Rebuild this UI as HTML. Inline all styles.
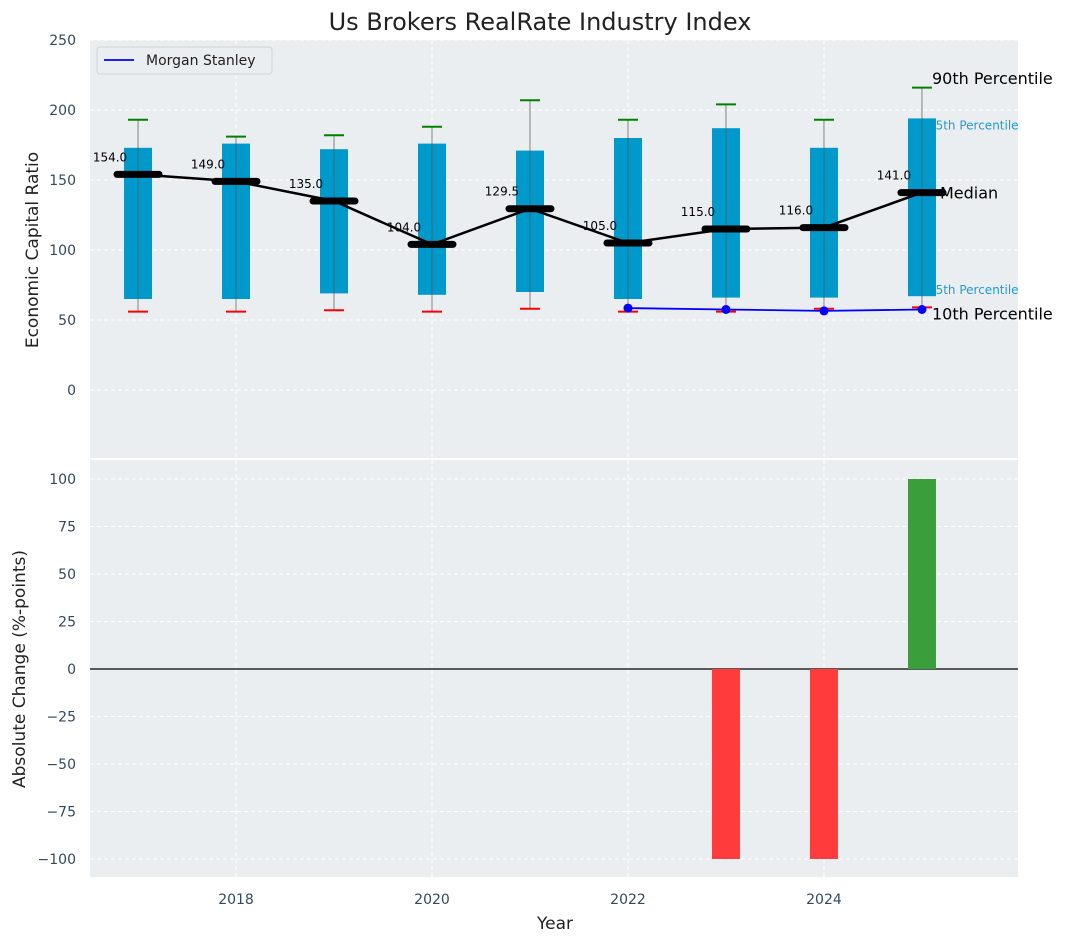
<!DOCTYPE html>
<html><head><meta charset="utf-8"><style>
body{margin:0;background:#fff;font-family:"Liberation Sans","DejaVu Sans",sans-serif}
svg{display:block}
text{font-family:"DejaVu Sans","Liberation Sans",sans-serif}
</style></head><body>
<svg id="c" width="1067" height="942" xmlns="http://www.w3.org/2000/svg"></svg>
<script>
const years=[2017,2018,2019,2020,2021,2022,2023,2024,2025];
const p10=[56,56,57,56,58,56,56,58,59];
const q1=[65,65,69,68,70,65,66,66,67];
const med=[154,149,135,104,129.5,105,115,116,141];
const q3=[173,176,172,176,171,180,187,173,194];
const p90=[193,181,182,188,207,193,204,193,216];
const msYears=[2022,2023,2024,2025];
const msVals=[58.5,57.5,56.5,57.5];
const chgYears=[2023,2024,2025];
const chgVals=[-100,-100,100];
const topTicks=[0,50,100,150,200,250];
const botTicks=[-100,-75,-50,-25,0,25,50,75,100];
const xTicks=[2018,2020,2022,2024];

const L=90,R=1018;
const x=v=>L+(v-2016.51)*(R-L)/(2025.98-2016.51);
const yT=v=>390-v*1.4;
const yB=v=>669-v*1.9;
const svg=document.getElementById('c');
const NS='http://www.w3.org/2000/svg';
function el(t,a,txt){const e=document.createElementNS(NS,t);for(const k in a)e.setAttribute(k,a[k]);if(txt!==undefined)e.textContent=txt;svg.appendChild(e);return e;}
const fmt=t=>(t<0?'\u2212':'')+Math.abs(t);

let e;
e=el('rect',{x:L,y:40,width:R-L,height:418,fill:'#eaeef0'});


e=el('rect',{x:L,y:460,width:R-L,height:417,fill:'#eaeef0'});



xTicks.forEach(t=>{
 el('line',{x1:x(t),x2:x(t),y1:40,y2:458,stroke:'#fff','stroke-dasharray':'4,3','stroke-width':1});
 el('line',{x1:x(t),x2:x(t),y1:460,y2:877,stroke:'#fff','stroke-dasharray':'4,3','stroke-width':1});
 e=el('text',{x:x(t),y:904,'text-anchor':'middle','font-size':14,fill:'#34495e'},t);
 
 
});
topTicks.forEach(t=>{
 el('line',{x1:L,x2:R,y1:yT(t),y2:yT(t),stroke:'#fff','stroke-dasharray':'4,3'});
 e=el('text',{x:76,y:yT(t)+5,'text-anchor':'end','font-size':14,fill:'#34495e'},fmt(t));
 
 
});
botTicks.forEach(t=>{
 el('line',{x1:L,x2:R,y1:yB(t),y2:yB(t),stroke:'#fff','stroke-dasharray':'4,3'});
 e=el('text',{x:76,y:yB(t)+5,'text-anchor':'end','font-size':14,fill:'#34495e'},fmt(t));
 
 
});

const lx=x(2025);
e=el('text',{x:lx+6,y:yT(q3[8])+11,'font-size':12,fill:'#1a9fd0'},'75th Percentile');


e=el('text',{x:lx+6,y:yT(q1[8])-2,'font-size':12,fill:'#1a9fd0'},'25th Percentile');



const hw=14;
years.forEach((yr,i)=>{
 const cx=x(yr);
 e=el('rect',{x:cx-hw,y:yT(q3[i]),width:2*hw,height:yT(q1[i])-yT(q3[i]),fill:'#0099cc'});
 
 
 el('line',{x1:cx,x2:cx,y1:yT(p10[i]),y2:yT(p90[i]),stroke:'#555','stroke-opacity':0.7,'stroke-width':1});
 e=el('line',{x1:cx-10,x2:cx+10,y1:yT(p90[i]),y2:yT(p90[i]),stroke:'green','stroke-width':2});
 
 
 e=el('line',{x1:cx-10,x2:cx+10,y1:yT(p10[i]),y2:yT(p10[i]),stroke:'red','stroke-width':2});
 
 
});
e=el('polyline',{points:years.map((yr,i)=>x(yr)+','+yT(med[i])).join(' '),fill:'none',stroke:'#000','stroke-width':2.5});


years.forEach((yr,i)=>{
 const cx=x(yr),cy=yT(med[i]);
 e=el('line',{x1:cx-21,x2:cx+21,y1:cy,y2:cy,stroke:'#000','stroke-width':7,'stroke-linecap':'round'});
 
 
 e=el('text',{x:cx-28,y:cy-13,'text-anchor':'middle','font-size':12,fill:'#000'},med[i].toFixed(1));
 
 
});
e=el('polyline',{points:msYears.map((yr,i)=>x(yr)+','+yT(msVals[i])).join(' '),fill:'none',stroke:'#0000ff','stroke-width':1.8});


msYears.forEach((yr,i)=>{
 e=el('circle',{cx:x(yr),cy:yT(msVals[i]),r:4.5,fill:'#0000ff'});
 
 
});
e=el('text',{x:lx+10,y:84,'font-size':16,fill:'#000'},'90th Percentile');


e=el('text',{x:lx+18,y:yT(med[8])+6,'font-size':16,fill:'#000'},'Median');


e=el('text',{x:lx+10,y:yT(p10[8])+12,'font-size':16,fill:'#000'},'10th Percentile');



el('line',{x1:L,x2:R,y1:yB(0),y2:yB(0),stroke:'#000','stroke-width':1.3});
chgYears.forEach((yr,i)=>{
 const v=chgVals[i];
 e=el('rect',{x:x(yr)-14,y:Math.min(yB(v),yB(0)),width:28,height:Math.abs(yB(v)-yB(0)),fill:v<0?'#ff3b3b':'#3a9e3a'});
 
 
});
el('rect',{x:L,y:458,width:R-L,height:2,fill:'#fff'});
e=el('rect',{x:97,y:47,width:175,height:27,rx:3,fill:'#eaeef0',stroke:'#cfd4d8'});


el('line',{x1:104,x2:134,y1:60,y2:60,stroke:'#0000ff','stroke-width':1.8});
e=el('text',{x:146,y:65,'font-size':14,fill:'#222'},'Morgan Stanley');


e=el('text',{x:540,y:30,'text-anchor':'middle','font-size':24,fill:'#222'},'Us Brokers RealRate Industry Index');


e=el('text',{x:555,y:929,'text-anchor':'middle','font-size':17,fill:'#222'},'Year');


e=el('text',{x:38,y:250,'text-anchor':'middle','font-size':17,fill:'#222',transform:'rotate(-90 38 250)'},'Economic Capital Ratio');


e=el('text',{x:25,y:669,'text-anchor':'middle','font-size':17,fill:'#222',transform:'rotate(-90 25 669)'},'Absolute Change (%-points)');


</script>
</body></html>
